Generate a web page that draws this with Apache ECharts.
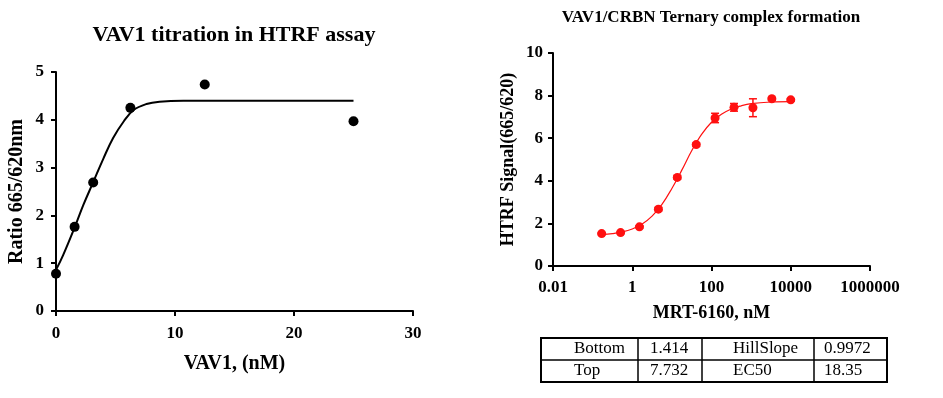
<!DOCTYPE html>
<html>
<head>
<meta charset="utf-8">
<script src="https://cdn.jsdelivr.net/npm/echarts@6/dist/echarts.min.js"></script>
<style>
  html, body { margin: 0; padding: 0; background: #fff; }
  #chart { width: 943px; height: 398px; }
</style>
</head>
<body>
<div id="chart"></div>
<script>
// Left panel: VAV1 titration points and fitted curve
const vavConc = [0, 1.5625, 3.125, 6.25, 12.5, 25];
const vavRatio = [0.78, 1.76, 2.69, 4.25, 4.74, 3.97];
const vavFitX = [0, 0.6, 1.6, 2.3, 3.1, 4.0, 4.8, 5.7, 6.5, 7.6, 8.7, 10.7, 15, 20, 25];
const vavFitY = [0.86, 1.17, 1.77, 2.22, 2.68, 3.2, 3.62, 3.97, 4.2, 4.33, 4.38, 4.4, 4.4, 4.4, 4.4];

// Right panel: MRT-6160 dose response (nM), signal and error
const mrtConc = [0.169, 0.508, 1.52, 4.57, 13.7, 41.2, 123, 370, 1111, 3333, 10000];
const mrtSignal = [1.52, 1.57, 1.84, 2.67, 4.16, 5.70, 6.95, 7.45, 7.43, 7.85, 7.80];
const mrtErr = [0.05, 0.05, 0.05, 0.08, 0.08, 0.08, 0.22, 0.18, 0.42, 0.06, 0.06];
const mrtFitX = [0.169, 0.316, 0.562, 1, 1.78, 3.16, 5.62, 10, 17.8, 31.6, 56.2, 100, 178, 316, 562, 1000, 3160, 10000];
const mrtFitY = [1.47, 1.52, 1.60, 1.74, 1.97, 2.34, 2.89, 3.64, 4.5, 5.41, 6.18, 6.75, 7.12, 7.37, 7.52, 7.62, 7.70, 7.72];
const logTickLabels = ['0.01', '1', '100', '10000', '1000000'];

// Fit parameters table
const tableRows = [
  ['Bottom', '1.414', 'HillSlope', '0.9972'],
  ['Top', '7.732', 'EC50', '18.35']
];

const serif = "'Liberation Serif', 'Times New Roman', serif";
const red = '#ff1010';
const chart = echarts.init(document.getElementById('chart'));

function axisStyle(fontSize, margin, nameSize) {
  return {
    axisLine: { show: true, lineStyle: { color: '#000', width: 2 } },
    axisTick: { show: true, length: 5, lineStyle: { color: '#000', width: 2 } },
    axisLabel: { color: '#000', fontFamily: serif, fontWeight: 'bold', fontSize: fontSize, margin: margin },
    splitLine: { show: false },
    nameTextStyle: { color: '#000', fontFamily: serif, fontWeight: 'bold', fontSize: nameSize }
  };
}

// Table graphics: outer box, row divider, column dividers and cell text
const tblX = 541, tblY = 338, tblW = 346, tblH = 44;
const colX = [541, 638, 702, 814, 887];
const textX = [574, 650, 733, 824];
const tableGraphics = [
  { type: 'rect', shape: { x: tblX, y: tblY, width: tblW, height: tblH }, style: { fill: 'none', stroke: '#000', lineWidth: 2 } },
  { type: 'line', shape: { x1: tblX, y1: tblY + tblH / 2, x2: tblX + tblW, y2: tblY + tblH / 2 }, style: { stroke: '#000', lineWidth: 1.5 } }
];
for (let c = 1; c < 4; c++) {
  tableGraphics.push({ type: 'line', shape: { x1: colX[c], y1: tblY, x2: colX[c], y2: tblY + tblH }, style: { stroke: '#000', lineWidth: 1.5 } });
}
tableRows.forEach((row, r) => {
  row.forEach((txt, c) => {
    tableGraphics.push({
      type: 'text', x: textX[c], y: tblY + 11 + r * 22,
      style: { text: txt, fontFamily: serif, fontSize: 17, fill: '#000', verticalAlign: 'middle', align: 'left' }
    });
  });
});

const option = {
  animation: false,
  backgroundColor: '#fff',
  graphic: [
    { type: 'text', x: 234, y: 35, style: { text: 'VAV1 titration in HTRF assay', fontFamily: serif, fontWeight: 'bold', fontSize: 22, fill: '#000', align: 'center', verticalAlign: 'middle' } },
    { type: 'text', x: 711, y: 18, style: { text: 'VAV1/CRBN Ternary complex formation', fontFamily: serif, fontWeight: 'bold', fontSize: 17, fill: '#000', align: 'center', verticalAlign: 'middle' } }
  ].concat(tableGraphics),
  grid: [
    { left: 56, top: 72, width: 357, height: 239 },
    { left: 553, top: 53, width: 317, height: 213 }
  ],
  xAxis: [
    Object.assign(axisStyle(17, 14, 20), {
      gridIndex: 0, type: 'value', min: 0, max: 30, interval: 10,
      name: 'VAV1, (nM)', nameLocation: 'middle', nameGap: 43
    }),
    Object.assign(axisStyle(17, 13, 18), {
      gridIndex: 1, type: 'log', logBase: 100, min: 0.01, max: 1000000,
      name: 'MRT-6160, nM', nameLocation: 'middle', nameGap: 38,
      axisLabel: Object.assign(axisStyle(17, 13, 18).axisLabel, {
        formatter: function (v) {
          const idx = Math.round((Math.log10(v) + 2) / 2);
          return logTickLabels[idx] || '';
        }
      }),
      minorTick: { show: false }
    })
  ],
  yAxis: [
    Object.assign(axisStyle(17, 12, 20), {
      gridIndex: 0, type: 'value', min: 0, max: 5, interval: 1,
      name: 'Ratio 665/620nm', nameLocation: 'middle', nameGap: 29
    }),
    Object.assign(axisStyle(17, 10, 18), {
      gridIndex: 1, type: 'value', min: 0, max: 10, interval: 2,
      name: 'HTRF Signal(665/620)', nameLocation: 'middle', nameGap: 36
    })
  ],
  series: [
    {
      type: 'line', xAxisIndex: 0, yAxisIndex: 0, smooth: 0.4, showSymbol: false,
      data: vavFitX.map((x, i) => [x, vavFitY[i]]),
      lineStyle: { color: '#000', width: 2 }
    },
    {
      type: 'scatter', xAxisIndex: 0, yAxisIndex: 0, symbolSize: 10,
      data: vavConc.map((x, i) => [x, vavRatio[i]]),
      itemStyle: { color: '#000', opacity: 1 }
    },
    {
      type: 'line', xAxisIndex: 1, yAxisIndex: 1, smooth: 0.4, showSymbol: false,
      data: mrtFitX.map((x, i) => [x, mrtFitY[i]]),
      lineStyle: { color: red, width: 1.2 }
    },
    {
      type: 'custom', xAxisIndex: 1, yAxisIndex: 1,
      data: mrtConc.map((x, i) => [x, mrtSignal[i] - mrtErr[i], mrtSignal[i] + mrtErr[i]]),
      renderItem: function (params, api) {
        const lo = api.coord([api.value(0), api.value(1)]);
        const hi = api.coord([api.value(0), api.value(2)]);
        const w = 4;
        const st = { stroke: red, lineWidth: 1.5 };
        return {
          type: 'group',
          children: [
            { type: 'line', shape: { x1: lo[0], y1: lo[1], x2: hi[0], y2: hi[1] }, style: st },
            { type: 'line', shape: { x1: hi[0] - w, y1: hi[1], x2: hi[0] + w, y2: hi[1] }, style: st },
            { type: 'line', shape: { x1: lo[0] - w, y1: lo[1], x2: lo[0] + w, y2: lo[1] }, style: st }
          ]
        };
      },
      z: 3
    },
    {
      type: 'scatter', xAxisIndex: 1, yAxisIndex: 1, symbolSize: 9,
      data: mrtConc.map((x, i) => [x, mrtSignal[i]]),
      itemStyle: { color: red, opacity: 1 }, z: 4
    }
  ]
};

chart.setOption(option);
</script>
</body>
</html>
